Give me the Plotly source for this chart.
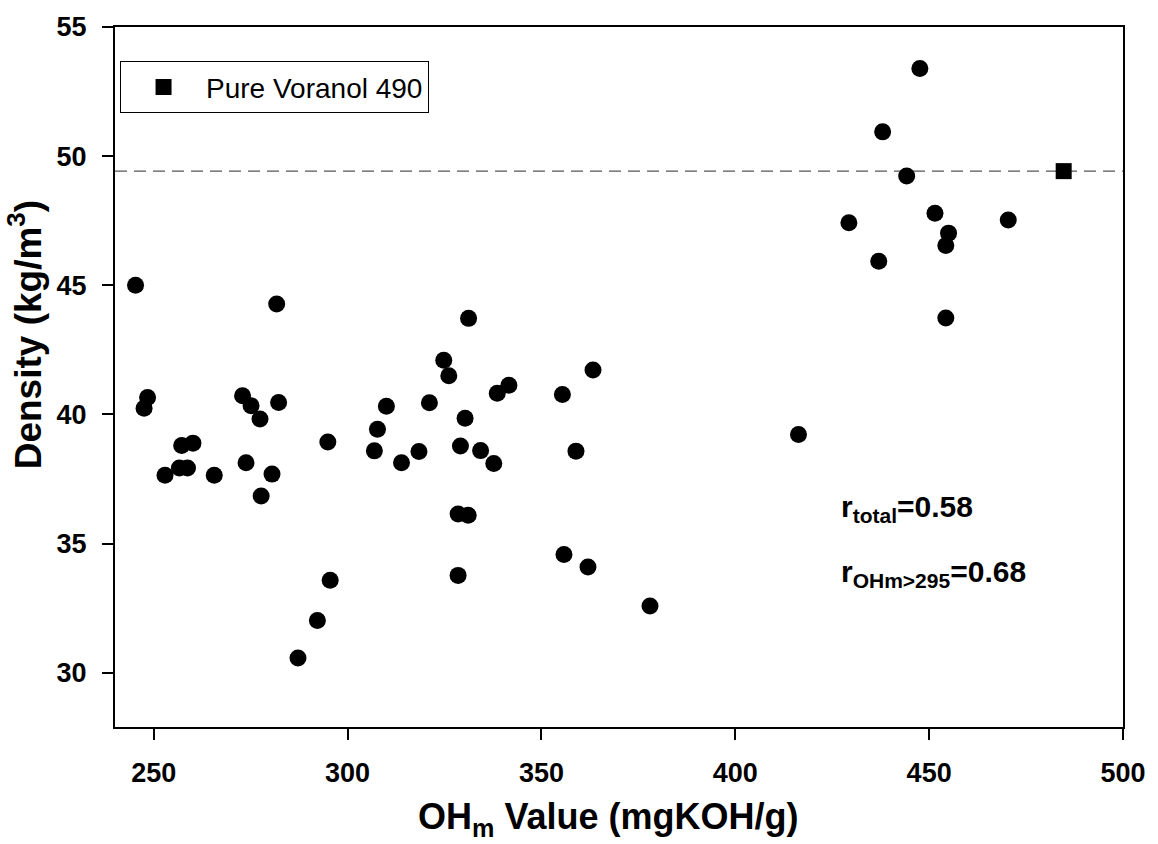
import plotly.graph_objects as go

# OHm value (mgKOH/g) of each formulation
ohm_values = [245.3, 247.5, 248.4, 252.9, 256.6, 257.2, 258.7, 260.1, 265.6, 272.9,
              273.8, 275.1, 277.4, 277.7, 280.5, 281.7, 282.2, 287.2, 292.2, 294.9,
              295.5, 306.9, 307.7, 310.0, 313.9, 318.4, 321.1, 324.8, 326.1, 328.5,
              328.5, 329.1, 330.3, 331.1, 331.2, 334.3, 337.7, 338.6, 341.6, 355.4,
              355.8, 358.9, 362.0, 363.3, 378.0, 416.3, 429.3, 437.0, 438.0, 444.2,
              447.6, 451.5, 454.3, 454.3, 455.0, 470.4]
# Foam density (kg/m3)
densities = [45.00, 40.24, 40.66, 37.65, 37.93, 38.80, 37.93, 38.89, 37.65, 40.72,
             38.13, 40.34, 39.82, 36.84, 37.69, 44.28, 40.46, 30.57, 32.02, 38.93,
             33.58, 38.59, 39.43, 40.32, 38.13, 38.57, 40.45, 42.10, 41.50, 36.15,
             33.77, 38.78, 39.85, 36.10, 43.72, 38.60, 38.10, 40.82, 41.13, 40.77,
             34.58, 38.58, 34.09, 41.72, 32.58, 39.22, 47.42, 45.93, 50.94, 49.23,
             53.39, 47.79, 46.54, 43.73, 47.02, 47.53]

# Pure Voranol 490 reference
voranol_ohm = [484.7]
voranol_density = [49.42]
voranol_label = "Pure Voranol 490"

x_range = [240, 500]
y_range = [27.9, 55]
x_ticks = [250, 300, 350, 400, 450, 500]
y_ticks = [30, 35, 40, 45, 50, 55]

r_total_text = "r<sub>total</sub>=0.58"
r_sub_text = "r<sub>OHm>295</sub>=0.68"

FONT = "Arial, 'Liberation Sans', sans-serif"

fig = go.Figure()
fig.add_trace(go.Scatter(
    x=ohm_values, y=densities, mode="markers",
    marker=dict(symbol="circle", size=17, color="black"),
    showlegend=False,
))
fig.add_trace(go.Scatter(
    x=voranol_ohm, y=voranol_density, mode="markers", name=voranol_label,
    marker=dict(symbol="square", size=16, color="black"),
    showlegend=True,
))

fig.add_shape(type="line", xref="paper", x0=0, x1=1, yref="y",
              y0=voranol_density[0], y1=voranol_density[0],
              line=dict(color="#555555", width=1.3, dash="12px,7px"), layer="below")

axis_common = dict(
    showgrid=False, zeroline=False, showline=True, linecolor="black", linewidth=2,
    mirror=True, ticks="outside", ticklen=11, tickwidth=1.5, tickcolor="black",
    ticklabelstandoff=10,
    tickfont=dict(family=FONT, size=27, color="black", weight="bold"),
)
fig.update_xaxes(range=x_range, tickvals=x_ticks, **axis_common)
fig.update_yaxes(range=y_range, tickvals=y_ticks, **axis_common)

fig.add_annotation(text="OH<sub>m</sub> Value (mgKOH/g)", xref="paper", yref="paper",
                   x=0.489, y=-0.096, xanchor="center", yanchor="top", showarrow=False,
                   font=dict(family=FONT, size=36, color="black", weight="bold"))
fig.add_annotation(text="Density (kg/m<sup>3</sup>)", xref="paper", yref="paper",
                   x=-0.088, y=0.56, xanchor="center", yanchor="middle", showarrow=False,
                   textangle=-90,
                   font=dict(family=FONT, size=37, color="black", weight="bold"))
fig.add_annotation(text=r_total_text, xref="paper", yref="paper",
                   x=(839 - 115) / 1008, y=(727.3 - 507) / 705.8, xanchor="left", yanchor="middle",
                   showarrow=False, font=dict(family=FONT, size=30, color="black", weight="bold"))
fig.add_annotation(text=r_sub_text, xref="paper", yref="paper",
                   x=(839 - 115) / 1008, y=(727.3 - 573) / 705.8, xanchor="left", yanchor="middle",
                   showarrow=False, font=dict(family=FONT, size=30, color="black", weight="bold"))

fig.update_layout(
    width=1158, height=844, autosize=False,
    margin=dict(l=115, r=35, t=22, b=117, pad=0),
    plot_bgcolor="white", paper_bgcolor="white",
    legend=dict(x=0.005, y=0.951, xanchor="left", yanchor="top",
                bordercolor="black", borderwidth=1, bgcolor="white",
                font=dict(family=FONT, size=28, color="black"), itemwidth=75),
)

fig.write_html("out.html")
